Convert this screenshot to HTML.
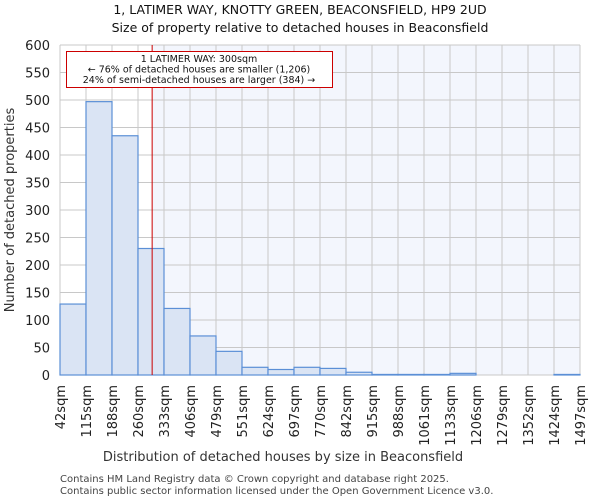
<!DOCTYPE html>
<html><head><meta charset="utf-8"><style>
body{margin:0;background:#fff;font-family:"DejaVu Sans","Liberation Sans",sans-serif;}
</style></head><body>
<svg width="600" height="500" xmlns="http://www.w3.org/2000/svg" font-family="DejaVu Sans, Liberation Sans, sans-serif">
<g id="root"></g>
</svg>
<script>
const binLabels=["42sqm","115sqm","188sqm","260sqm","333sqm","406sqm","479sqm","551sqm","624sqm","697sqm","770sqm","842sqm","915sqm","988sqm","1061sqm","1133sqm","1206sqm","1279sqm","1352sqm","1424sqm","1497sqm"];
const counts=[129,497,435,230,121,71,43,14,10,14,12,5,1,1,1,3,0,0,0,1];
const yTicks=[0,50,100,150,200,250,300,350,400,450,500,550,600];
const binStart=42, binWidth=72.8, marker=300;
const X0=60,X1=580,Y0=375,Y1=45;
const n=counts.length;
const xs=v=>X0+(v-binStart)/(binWidth*n)*(X1-X0);
const xi=i=>X0+i*(X1-X0)/n;
const ys=v=>Y0-(v/600)*(Y0-Y1);
const NS="http://www.w3.org/2000/svg";
const root=document.getElementById('root');
function mk(tag,attrs,parent){const e=document.createElementNS(NS,tag);for(const k in attrs)e.setAttribute(k,attrs[k]);(parent||root).appendChild(e);return e;}
let e;
const mx=xs(marker);
e=mk('rect',{x:X0,y:Y1,width:mx-X0,height:Y0-Y1,fill:'#ffffff'});


e=mk('rect',{x:mx,y:Y1,width:X1-mx,height:Y0-Y1,fill:'#f3f6fd'});


for(let i=0;i<=n;i++){e=mk('line',{x1:xi(i),x2:xi(i),y1:Y1,y2:Y0,stroke:'#c8c8c8','stroke-width':1});

}
yTicks.forEach(t=>{e=mk('line',{x1:X0,x2:X1,y1:ys(t),y2:ys(t),stroke:'#c8c8c8','stroke-width':1});


e=mk('text',{x:X0-10,y:ys(t)+5,'text-anchor':'end','font-size':13,fill:'#222'});e.textContent=t;

});
counts.forEach((c,i)=>{if(c<=0)return;e=mk('rect',{x:xi(i),y:ys(c),width:xi(i+1)-xi(i),height:Y0-ys(c),fill:'#dae4f4',stroke:'#5b8fd6','stroke-width':1.2});

});
binLabels.forEach((l,i)=>{const x=xi(i);e=mk('text',{transform:`translate(${x+5},${Y0+10}) rotate(-90)`,'text-anchor':'end','font-size':13,fill:'#222'});e.textContent=l;

});
e=mk('line',{x1:mx,x2:mx,y1:Y1,y2:Y0,stroke:'#cc0000','stroke-width':1});


e=mk('rect',{x:66.5,y:51.5,width:266,height:36,fill:'#fff',stroke:'#cc0000','stroke-width':1});


["1 LATIMER WAY: 300sqm","\u2190 76% of detached houses are smaller (1,206)","24% of semi-detached houses are larger (384) \u2192"].forEach((t,k)=>{e=mk('text',{x:199,y:62+k*10.5,'text-anchor':'middle','font-size':9.5,fill:'#111'});e.textContent=t;

});
e=mk('text',{x:300,y:14,'text-anchor':'middle','font-size':12.5,fill:'#111'});e.textContent="1, LATIMER WAY, KNOTTY GREEN, BEACONSFIELD, HP9 2UD";


e=mk('text',{x:300,y:32,'text-anchor':'middle','font-size':12.5,fill:'#111'});e.textContent="Size of property relative to detached houses in Beaconsfield";


e=mk('text',{transform:'translate(14,210) rotate(-90)','text-anchor':'middle','font-size':13,fill:'#333'});e.textContent="Number of detached properties";


e=mk('text',{x:283,y:461,'text-anchor':'middle','font-size':13,fill:'#333'});e.textContent="Distribution of detached houses by size in Beaconsfield";


e=mk('text',{x:60,y:482,'font-size':10,fill:'#444'});e.textContent="Contains HM Land Registry data \u00a9 Crown copyright and database right 2025.";


e=mk('text',{x:60,y:494,'font-size':10,fill:'#444'});e.textContent="Contains public sector information licensed under the Open Government Licence v3.0.";


</script>
</body></html>
